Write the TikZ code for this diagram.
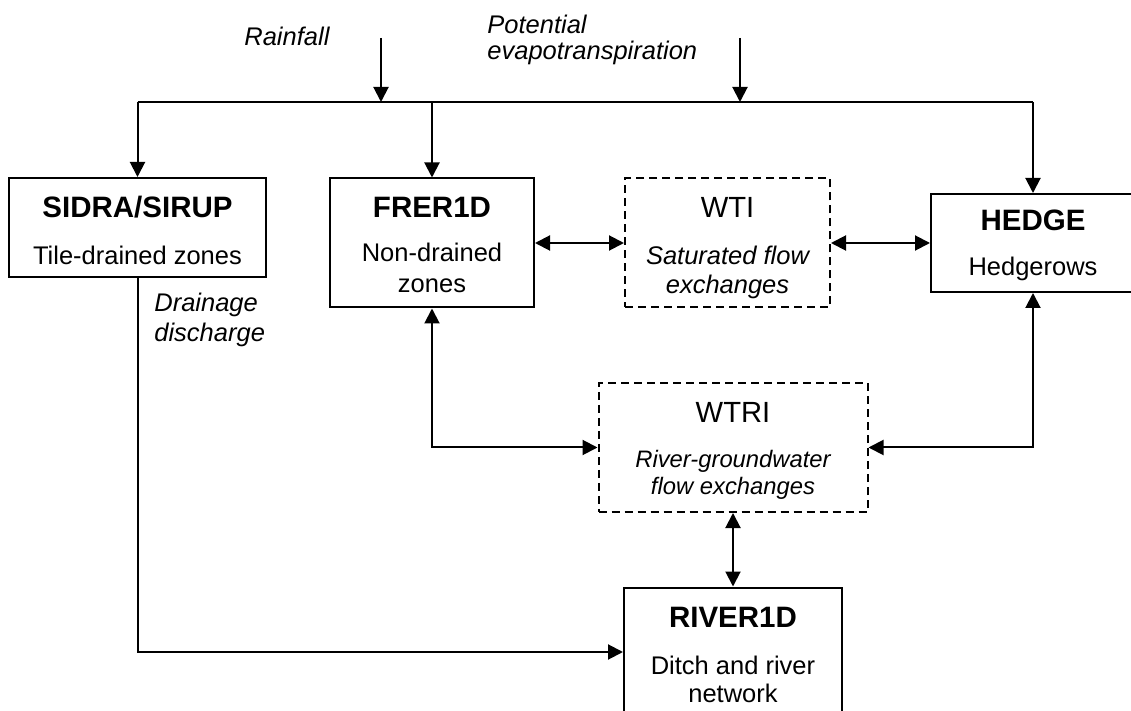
\documentclass[tikz,border=0pt]{standalone}
\usepackage{fontspec}
\setmainfont{Liberation Sans}
\usetikzlibrary{arrows.meta}
\tikzset{
  box/.style={draw, line width=1pt, inner sep=0pt},
  dbox/.style={box, dash pattern=on 4pt off 2.5pt},
  ttl/.style={anchor=base, inner sep=0pt, font=\fontsize{14.75pt}{17pt}\selectfont\bfseries},
  ttn/.style={anchor=base, inner sep=0pt, font=\fontsize{14.6pt}{17pt}\selectfont},
  txt/.style={anchor=base, inner sep=0pt, font=\fontsize{12.75pt}{15pt}\selectfont},
  itx/.style={anchor=base, inner sep=0pt, font=\fontsize{12.75pt}{15pt}\selectfont\itshape},
  itn/.style={anchor=base, inner sep=0pt, font=\fontsize{11.9pt}{14pt}\selectfont\itshape},
  ln/.style={line width=1pt},
  arr/.style={ln, -{Triangle[length=7.5pt,width=7.5pt]}},
  darr/.style={ln, {Triangle[length=7.5pt,width=7.5pt]}-{Triangle[length=7.5pt,width=7.5pt]}}
}
\begin{document}
\begin{tikzpicture}[x=0.5pt, y=-0.5pt]
\useasboundingbox (0,0) rectangle (1131,711);
\clip (0,0) rectangle (1131,711);

% boxes
\node[box, minimum width=128.5pt, minimum height=49.5pt] (sidra) at (137.5,227.5) {};
\node[box, minimum width=102pt, minimum height=64.5pt] (frer) at (432,243) {};
\node[dbox, minimum width=102.5pt, minimum height=64.5pt] (wti) at (727.5,243) {};
\node[box, minimum width=102pt, minimum height=49pt] (hedge) at (1033,243) {};
\node[dbox, minimum width=134.5pt, minimum height=64.5pt] (wtri) at (733,447.5) {};
\node[box, minimum width=109pt, minimum height=64.5pt] (river) at (733,652) {};

% texts in boxes
\node[ttl] (sidraT) at (137.5,217.5) {SIDRA/SIRUP};
\node[txt] (sidraS) at (137.5,265) {Tile-drained zones};

\node[ttl] (frerT) at (432,217.5) {FRER1D};
\node[txt] (frerS1) at (432,262) {Non-drained};
\node[txt] (frerS2) at (432,292.5) {zones};

\node[ttn] (wtiT) at (727.5,217.5) {WTI};
\node[itx] (wtiS1) at (727.5,265) {Saturated flow};
\node[itx] (wtiS2) at (727.5,294) {exchanges};

\node[ttl] (hedgeT) at (1033,230.5) {HEDGE};
\node[txt] (hedgeS) at (1033,276) {Hedgerows};

\node[ttn] (wtriT) at (733,422.5) {WTRI};
\node[itn] (wtriS1) at (733,467) {River-groundwater};
\node[itn] (wtriS2) at (733,494.5) {flow exchanges};

\node[ttl] (riverT) at (733,627.5) {RIVER1D};
\node[txt] (riverS1) at (733,674) {Ditch and river};
\node[txt] (riverS2) at (733,702) {network};

% free labels
\node[itx, anchor=base west] (rainL) at (244,46) {Rainfall};
\node[itx, anchor=base west] (petL1) at (487,34) {Potential};
\node[itx, anchor=base west] (petL2) at (487,60) {evapotranspiration};
\node[itx, anchor=base west] (drL1) at (154,311.5) {Drainage};
\node[itx, anchor=base west] (drL2) at (154,341.5) {discharge};

% coordinates
\coordinate (rainTop) at (381,38);
\coordinate (rainBot) at (381,102);
\coordinate (petTop) at (740,38);
\coordinate (petBot) at (740,102);
\coordinate (jL) at (137.5,102);
\coordinate (jF) at (432,102);
\coordinate (jR) at (1033,102);

% connectors
\draw[arr] (rainTop) -- (rainBot);
\draw[arr] (petTop) -- (petBot);
\draw[ln] (jL) -- (jR);
\draw[arr] (jL) -- (sidra.north);
\draw[arr] (jF) -- (frer.north);
\draw[arr] (jR) -- (hedge.north);
\draw[darr] (frer.east) -- (wti.west);
\draw[darr] (wti.east) -- (hedge.west);
\draw[darr] (frer.south) |- (wtri.west);
\draw[darr] (hedge.south) |- (wtri.east);
\draw[darr] (wtri.south) -- (river.north);
\draw[arr] (sidra.south) |- (river.west);
\end{tikzpicture}
\end{document}
